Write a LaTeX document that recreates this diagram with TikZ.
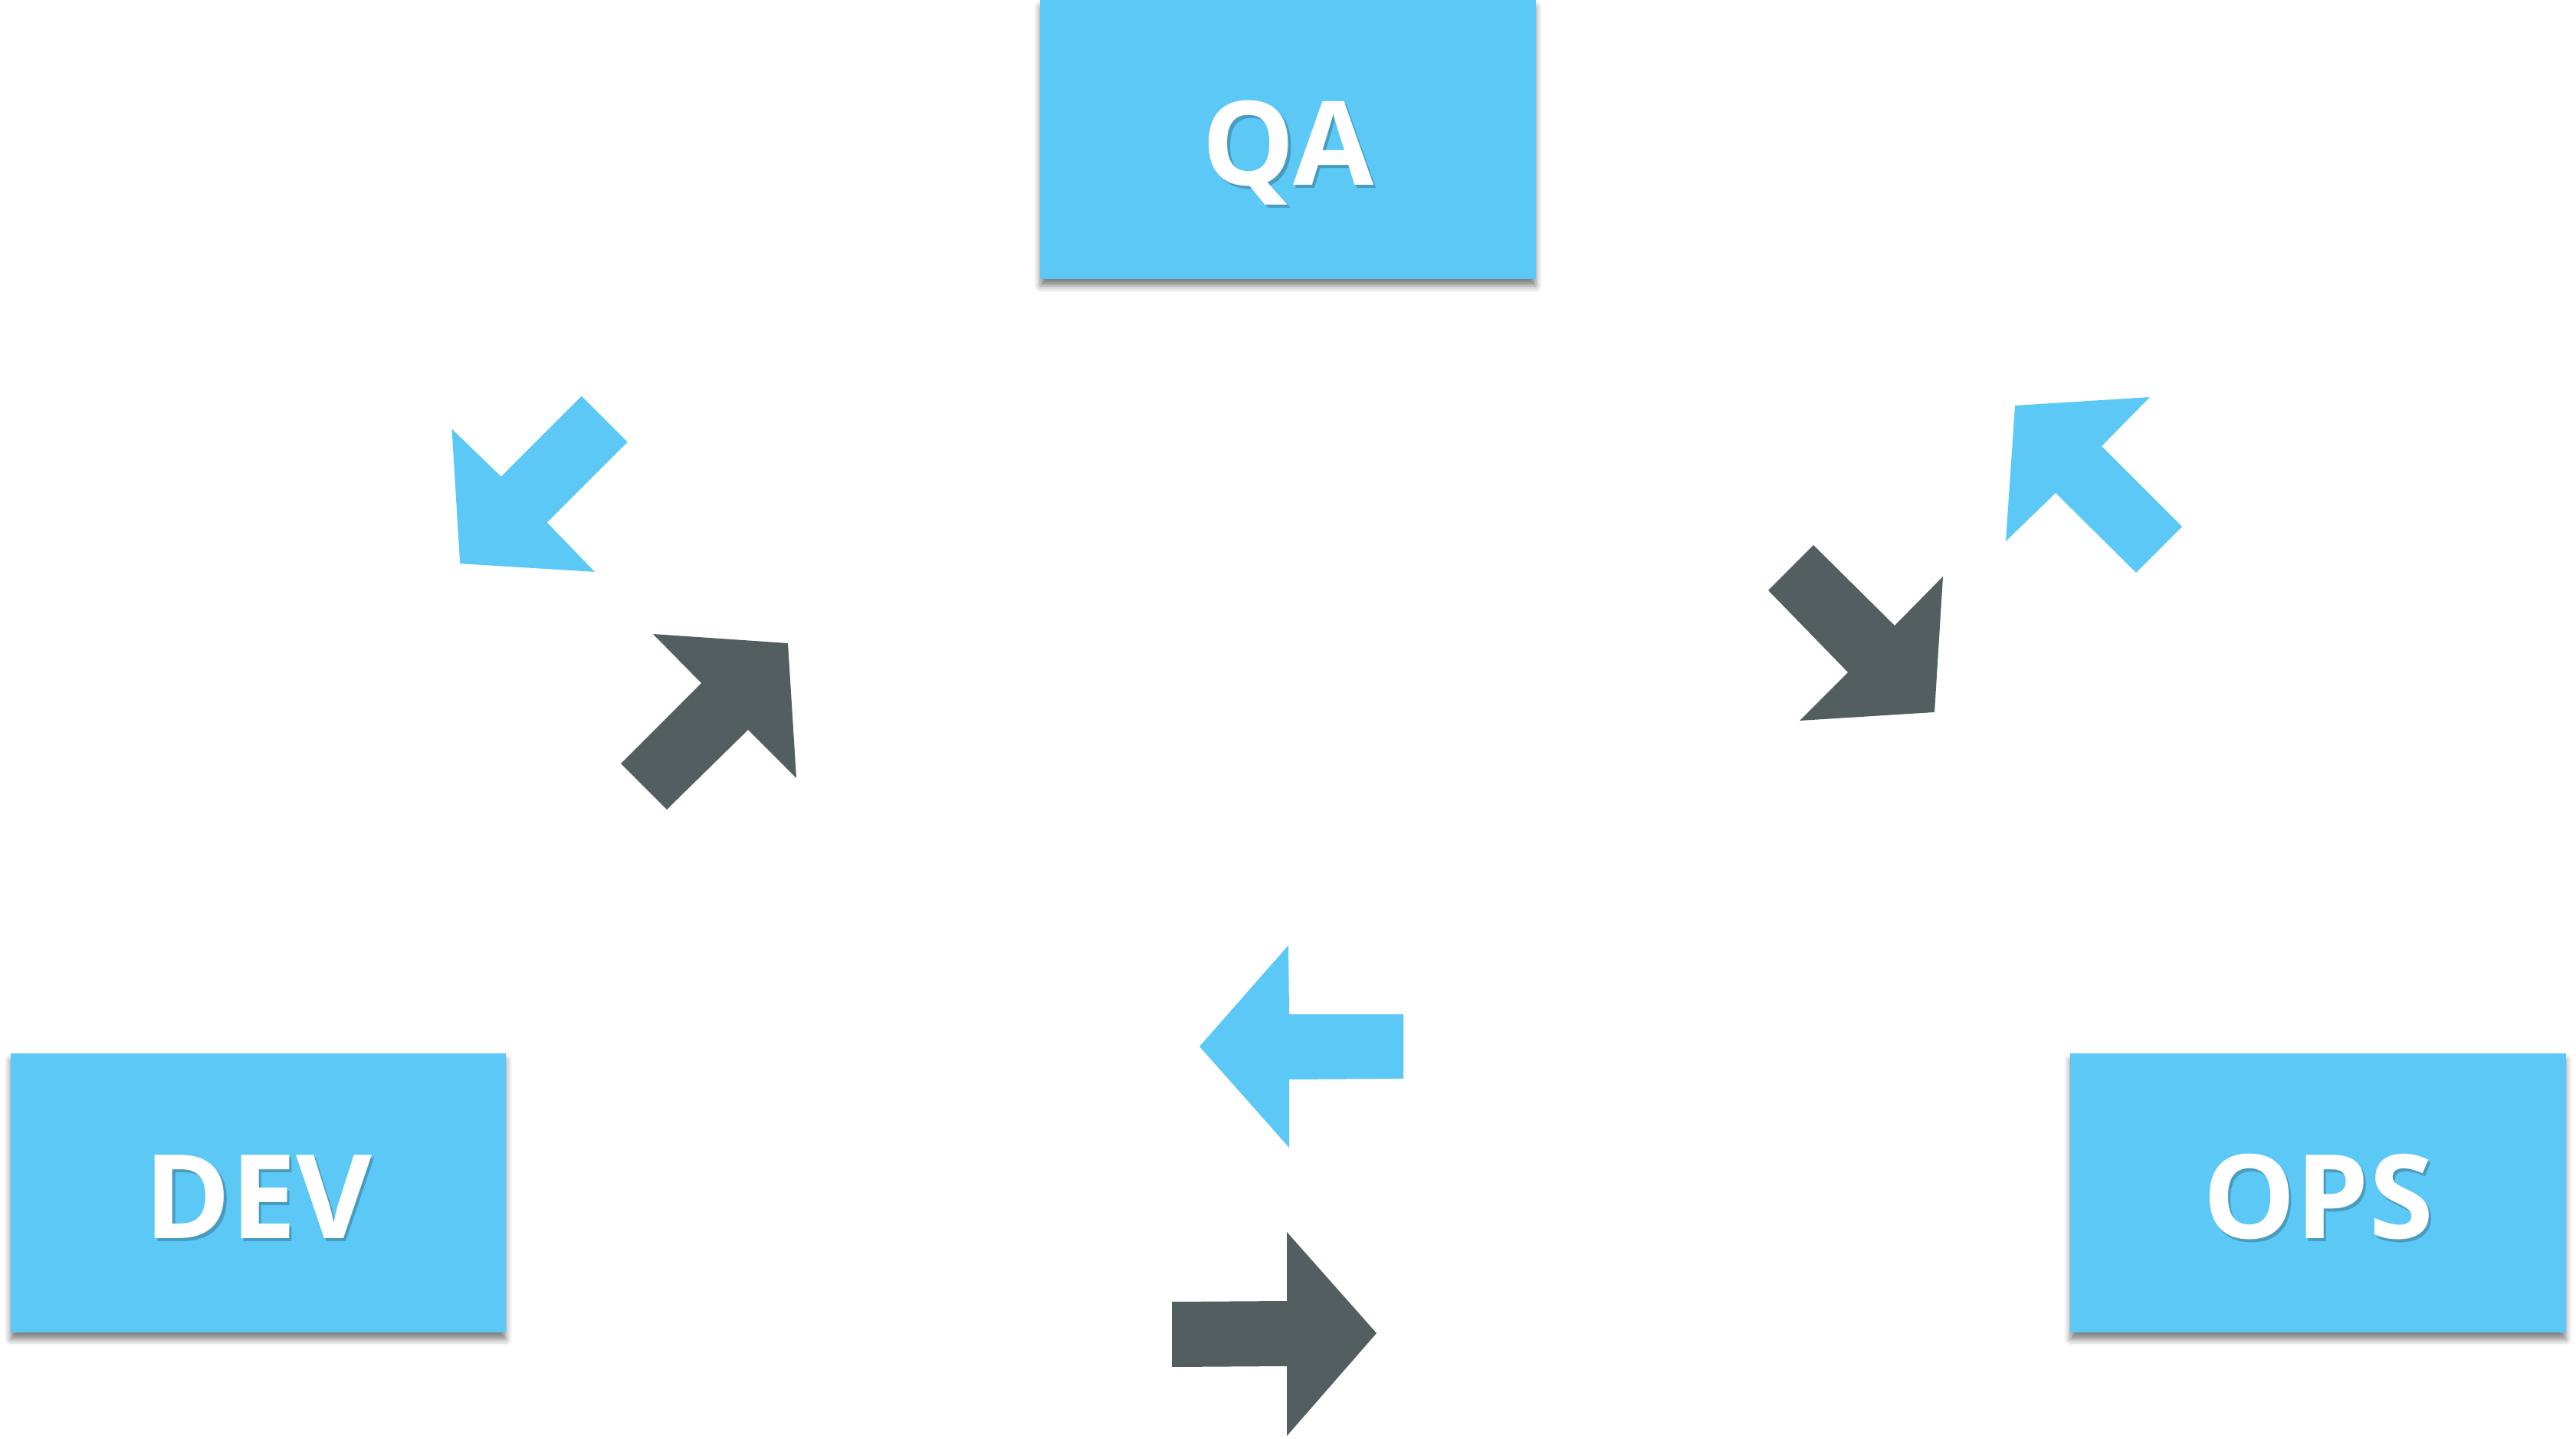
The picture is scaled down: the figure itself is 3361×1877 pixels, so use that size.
\documentclass[tikz,border=0pt]{standalone}
\usepackage{fontspec}
\setmainfont{Open Sans}
\usetikzlibrary{shadows.blur}
\definecolor{dblue}{HTML}{5CC8F5}
\definecolor{dgray}{HTML}{535E60}
\tikzset{
  box/.style={fill=dblue, minimum width=6.46cm, minimum height=3.64cm, inner sep=0pt,
    blur shadow={shadow xshift=0cm, shadow yshift=-0.09cm, shadow blur radius=0.08cm, shadow opacity=50}},
  lbl/.style={text=white, font=\bfseries\fontsize{43.3}{50}\selectfont, inner sep=0pt, text height=30.9pt, text depth=0pt},
  lblshadow/.style={lbl, text=black, text opacity=0.22},
  bluearrow/.style={fill=dblue, draw=none},
  grayarrow/.style={fill=dgray, draw=none},
}
\begin{document}
\begin{tikzpicture}[x=0.01cm, y=-0.01cm]
\useasboundingbox (0,0) rectangle (3361,1877);
% boxes
\node[box] (qa) at (1680.5,182) {};
\node[box] (dev) at (337,1556) {};
\node[box] (ops) at (3024.5,1556) {};
% labels
\node[lblshadow] at ([shift={(0.035cm,-0.095cm)}]qa.center) {QA};
\node[lbl] (qalbl) at ([shift={(0cm,-0.05cm)}]qa.center) {QA};
\node[lblshadow] at ([shift={(0.035cm,-0.095cm)}]dev.center) {DEV};
\node[lbl] (devlbl) at ([shift={(0cm,-0.05cm)}]dev.center) {DEV};
\node[lblshadow] at ([shift={(0.035cm,-0.095cm)}]ops.center) {OPS};
\node[lbl] (opslbl) at ([shift={(0cm,-0.05cm)}]ops.center) {OPS};
% block arrows between DEV and QA
\fill[bluearrow] (589.5,559.5) -- (653.8,621.6) -- (758.8,516.6) -- (818.8,576.6) -- (713.8,681.6) -- (776,745.9) -- (600.2,735.2) -- cycle;
\fill[grayarrow] (852,827) -- (915,891) -- (810,996) -- (870,1056) -- (976,952) -- (1039,1015) -- (1028,839) -- cycle;
% block arrows between QA and OPS
\fill[bluearrow] (2629,529) -- (2805,518) -- (2742,582) -- (2847,687) -- (2787,747) -- (2682,643) -- (2617,706) -- cycle;
\fill[grayarrow] (2366,711) -- (2307,770) -- (2411,877) -- (2348,940) -- (2524,929) -- (2535,752) -- (2472,816) -- cycle;
% block arrows between DEV and OPS
\fill[bluearrow] (1565,1365) -- (1681,1233) -- (1682,1323) -- (1831,1323) -- (1831,1407) -- (1682,1408) -- (1682,1497) -- cycle;
\fill[grayarrow] (1529,1698) -- (1679,1697) -- (1679,1607) -- (1796,1739) -- (1679,1873) -- (1679,1782) -- (1529,1783) -- cycle;
\end{tikzpicture}
\end{document}
